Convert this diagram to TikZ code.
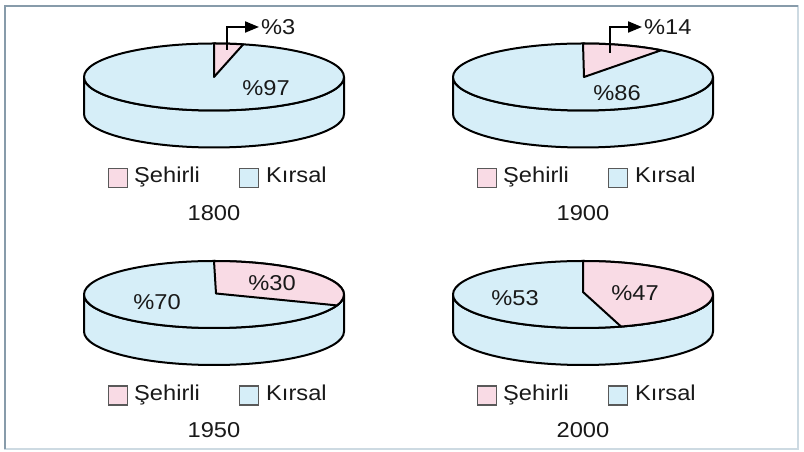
\documentclass[tikz,border=0pt]{standalone}
\usepackage{fontspec}
\setmainfont{Liberation Sans}[FakeStretch=1.1]
\usetikzlibrary{arrows.meta}
\definecolor{kblue}{RGB}{214,238,248}
\definecolor{kpink}{RGB}{249,219,229}
\definecolor{ktext}{RGB}{25,25,25}
\definecolor{kframe}{RGB}{135,155,170}
\definecolor{kframelight}{RGB}{205,218,226}
\newcommand\kpieside[2]{%
  \path[pieline,fill=kblue] ({#1-130},#2) -- ({#1-130},{#2-37})
    arc[start angle=180,end angle=360,x radius=130,y radius=33.5]
    -- ({#1+130},#2)
    arc[start angle=0,end angle=-180,x radius=130,y radius=33.5] -- cycle;
  \path[pieline,fill=kblue] (#1,#2) ellipse[x radius=130,y radius=33.5];}
\newcommand\kslice[5]{% cx, cy, tipx, tipy, end angle
  \path[pieline,fill=kpink] (#3,#4) -- (#1,{#2+33.5})
    arc[start angle=90,end angle=#5,x radius=130,y radius=33.5] -- cycle;}
\newcommand\klegend[4]{% cx, cy, suffix, year
  \node[legsq,fill=kpink] (sq#3a) at ({#1-96},{#2-101}) {};
  \node[lab,anchor=base west] (sh#3) at ({#1-80},{#2-106}) {Şehirli};
  \node[legsq,fill=kblue] (sq#3b) at ({#1+35},{#2-101}) {};
  \node[lab,anchor=base west] (kr#3) at ({#1+52},{#2-106}) {Kırsal};
  \node[lab] (yr#3) at (#1,{#2-136}) {#4};}
\begin{document}
\begin{tikzpicture}[x=1pt,y=1pt,
  pieline/.style={draw=black,line width=2pt,line join=round},
  lab/.style={font=\fontsize{21.5}{24}\selectfont,text=ktext,inner sep=0pt},
  legsq/.style={draw=black!65,line width=1.3pt,minimum size=19pt,inner sep=0pt},
  callout/.style={draw=black,line width=2pt,-{Triangle[length=14pt,width=11pt]}}]
\useasboundingbox (0,0) rectangle (804,452);
\fill[white] (0,0) rectangle (804,452);
\draw[kframelight,line width=1.5pt] (5,3) rectangle (798,446);
\draw[kframe,line width=2pt] (5,3) -- (5,446) -- (798,446);

% 1800
\kpieside{214}{375}
\kslice{214}{375}{214}{375}{77}
\node[lab] (t97) at (266,364) {\%97};
\node[lab,anchor=west] (l3) at (261,425) {\%3};
\coordinate (p1) at (227,402);
\draw[callout] (p1) |- ([xshift=-2pt]l3.west);
\klegend{214}{375}{1}{1800}

% 1900
\kpieside{583}{375}
\kslice{583}{375}{584}{375}{53}
\node[lab] (t86) at (617,359) {\%86};
\node[lab,anchor=west] (l14) at (644,425) {\%14};
\coordinate (p2) at (610,399);
\draw[callout] (p2) |- ([xshift=-2pt]l14.west);
\klegend{583}{375}{2}{1900}

% 1950
\kpieside{214}{157.5}
\kslice{214}{157.5}{216}{158.5}{-19}
\node[lab] (t30) at (272,169) {\%30};
\node[lab] (t70) at (157,150) {\%70};
\klegend{214}{157.5}{3}{1950}

% 2000
\kpieside{583}{157.5}
\kslice{583}{157.5}{583}{160}{-73}
\node[lab] (t53) at (515,154) {\%53};
\node[lab] (t47) at (635,159) {\%47};
\klegend{583}{157.5}{4}{2000}
\end{tikzpicture}
\end{document}
